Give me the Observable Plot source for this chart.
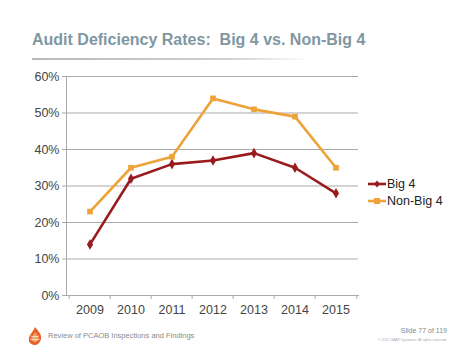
<!DOCTYPE html>
<html>
<head>
<meta charset="utf-8">
<script src="https://cdn.jsdelivr.net/npm/d3@7"></script>
<script src="https://cdn.jsdelivr.net/npm/@observablehq/plot@0.6"></script>
<style>
  html, body { margin: 0; padding: 0; background: #fff; }
  body { width: 474px; height: 355px; position: relative; overflow: hidden; font-family: "Liberation Sans", Arial, sans-serif; }
  #title { position: absolute; left: 32px; top: 31px; font-size: 16px; font-weight: bold; color: #7f97a2; white-space: pre; }
  #rule { position: absolute; left: 32px; top: 58px; width: 280px; height: 2px; background: linear-gradient(to right, #b9b9b9, #d0d0d0 70%, rgba(255,255,255,0)); }
  #chart { position: absolute; left: 0; top: 62px; }
  #legend { position: absolute; left: 368px; top: 175px; font-size: 12.5px; color: #222; }
  .li { display: flex; align-items: center; height: 17px; }
  .li svg { margin-right: 1px; }
  #foot { position: absolute; left: 48px; top: 331px; font-size: 7.5px; color: #8a8a8a; }
  #slide { position: absolute; right: 27px; top: 327px; font-size: 7px; color: #888; }
  #copy { position: absolute; right: 27px; top: 338px; font-size: 3.5px; color: #aaa; }
  #logo { position: absolute; left: 27px; top: 326px; }
</style>
</head>
<body>
<div id="title">Audit Deficiency Rates:  Big 4 vs. Non-Big 4</div>
<div id="rule"></div>
<div id="chart"></div>
<div id="legend"></div>
<svg id="logo" width="16" height="20" viewBox="0 0 16 20">
  <path d="M8 1 C11 5 15 8 14 13 C13 18 9 19 8 19 C4 19 1 16 2 12 C3 8 6 6 8 1 Z" fill="#e8602c"/>
  <path d="M8 6 C10 9 12 11 11 14 C10 17 6 17 5 14 C4 11 7 9 8 6 Z" fill="#f4a05a"/>
  <path d="M4 10 C6 11 10 11 12 10" stroke="#fff" stroke-width="0.8" fill="none"/>
  <path d="M3.5 13 C6 14 10 14 12.5 13" stroke="#fff" stroke-width="0.8" fill="none"/>
</svg>
<div id="foot">Review of PCAOB Inspections and Findings</div>
<div id="slide">Slide 77 of 119</div>
<div id="copy">© 2017 GAAP Dynamics. All rights reserved.</div>
<script>
const years = ["2009", "2010", "2011", "2012", "2013", "2014", "2015"];
const big4 = [14, 32, 36, 37, 39, 35, 28];
const nonBig4 = [23, 35, 38, 54, 51, 49, 35];
const seriesNames = ["Big 4", "Non-Big 4"];
const seriesColors = ["#9a1b1e", "#eea23a"];
const seriesSymbols = ["diamond", "square"];
const yTicks = [0, 10, 20, 30, 40, 50, 60];

const data = [];
years.forEach((y, i) => {
  data.push({year: y, value: big4[i] / 100, series: seriesNames[0]});
  data.push({year: y, value: nonBig4[i] / 100, series: seriesNames[1]});
});

const marginLeft = 66, marginRight = 116, width = 474;
const bw = (width - marginLeft - marginRight) / years.length;

const plot = Plot.plot({
  width: 474,
  height: 258,
  marginTop: 14,
  marginBottom: 25,
  marginLeft,
  marginRight,
  style: {fontFamily: "'Liberation Sans', Arial, sans-serif", fontSize: "12.5px", color: "#333"},
  x: {type: "band", domain: years, padding: 0, label: null},
  y: {domain: [0, 0.6], label: null},
  color: {domain: seriesNames, range: seriesColors},
  symbol: {domain: seriesNames, range: seriesSymbols},
  marks: [
    Plot.gridY(yTicks.map(d => d / 100), {stroke: "#a9a9a9", strokeOpacity: 1, strokeWidth: 1}),
    Plot.axisY(yTicks.map(d => d / 100), {tickFormat: d => Math.round(d * 100) + "%", tickSize: 4, stroke: "#a9a9a9", tickPadding: 3, fill: "#444", fontSize: 12.5, label: null}),
    Plot.frame({anchor: "left", stroke: "#a9a9a9"}),
    Plot.frame({anchor: "bottom", stroke: "#a9a9a9"}),
    Plot.axisX({tickSize: 0, tickPadding: 10, fill: "#444", fontSize: 12.5, label: null}),
    Plot.axisX({tickSize: 4, tickFormat: () => "", dx: -bw / 2, stroke: "#a9a9a9", label: null}),
    Plot.axisX([years[years.length - 1]], {tickSize: 4, tickFormat: () => "", dx: bw / 2, stroke: "#a9a9a9", label: null}),
    Plot.line(data, {x: "year", y: "value", z: "series", stroke: "series", strokeWidth: 2.6}),
    Plot.dot(data, {x: "year", y: "value", fill: "series", symbol: "series", r: 3.2, stroke: null})
  ]
});
document.getElementById("chart").appendChild(plot);

const legend = document.getElementById("legend");
seriesNames.forEach((name, i) => {
  const row = document.createElement("div");
  row.className = "li";
  const shape = seriesSymbols[i] === "square"
    ? `<rect x="6" y="3" width="6" height="6" fill="${seriesColors[i]}"/>`
    : `<path d="M9 2.5 L12 6 L9 9.5 L6 6 Z" fill="${seriesColors[i]}"/>`;
  row.innerHTML = `<svg width="18" height="12"><line x1="0" y1="6" x2="18" y2="6" stroke="${seriesColors[i]}" stroke-width="2.6"/>${shape}</svg><span>${name}</span>`;
  legend.appendChild(row);
});
</script>
</body>
</html>
